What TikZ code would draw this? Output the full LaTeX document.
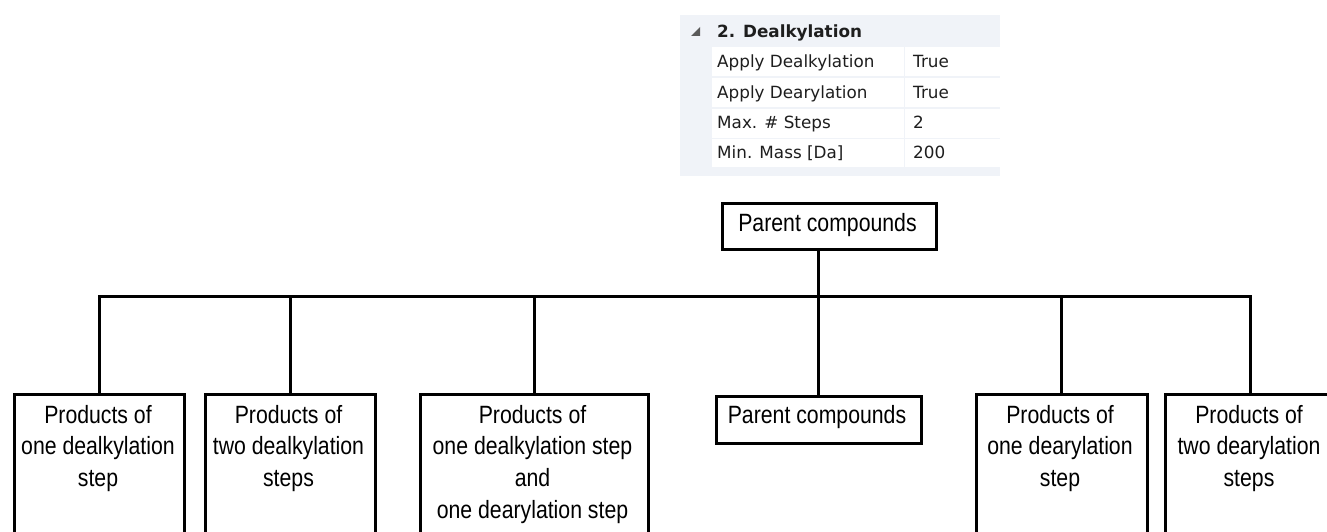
\documentclass[tikz,border=0pt]{standalone}
\usepackage{fontspec}
\setmainfont{Liberation Sans}
\newfontfamily\condfont{Liberation Sans}[FakeStretch=0.85]
\newfontfamily\gridfont{DejaVu Sans}
\definecolor{gridbg}{HTML}{F0F3F8}
\definecolor{gridtext}{HTML}{1E1E1E}
\definecolor{gridarrow}{HTML}{5A5A5A}
\begin{document}
\begin{tikzpicture}[x=1pt,y=-1pt,
  box/.style={draw, line width=3pt, inner sep=0pt, anchor=north west},
  % anchor=base sits on the last line of a multi-line label
  boxtext/.style={anchor=base, align=center, inner sep=0pt,
    font=\condfont\fontsize{25}{31.7}\selectfont},
  link/.style={line width=3pt},
  cell/.style={fill=white, draw=none},
  gridlabel/.style={anchor=base west, inner sep=0pt, text=gridtext,
    font=\gridfont\fontsize{16.8}{19}\selectfont}]
\useasboundingbox (0,0) rectangle (1327,532);
\clip (0,0) rectangle (1327,532);

% property grid panel
\fill[gridbg] (680,15) rectangle (1000,176);
\foreach \ya/\yb in {47/76.5, 78/107.5, 109/137.5, 139/166.5}{
  \fill[cell] (712,\ya) rectangle (903.5,\yb);
  \fill[cell] (905,\ya) rectangle (1000,\yb);
}
\fill[gridarrow] (691,36) -- (700,36) -- (700,27) -- cycle;
\node[gridlabel, font=\gridfont\bfseries\fontsize{16.8}{19}\selectfont] (gh) at (717,38) {2. Dealkylation};
\node[gridlabel] (n1) at (717,68) {Apply Dealkylation};
\node[gridlabel] (v1) at (913,68) {True};
\node[gridlabel] (n2) at (717,98.5) {Apply Dearylation};
\node[gridlabel] (v2) at (913,98.5) {True};
\node[gridlabel] (n3) at (717,128.5) {Max. \# Steps};
\node[gridlabel] (v3) at (913,128.5) {2};
\node[gridlabel] (n4) at (717,158.5) {Min. Mass [Da]};
\node[gridlabel] (v4) at (913,158.5) {200};

% tree boxes (open at the bottom edge of the page)
\node[box, minimum width=214pt, minimum height=46pt] (top) at (720.5,201.5) {};
\node[box, minimum width=170pt, minimum height=200pt] (b1) at (13,392.5) {};
\node[box, minimum width=170pt, minimum height=200pt] (b2) at (203.5,392.5) {};
\node[box, minimum width=228pt, minimum height=200pt] (b3) at (418.5,392.5) {};
\node[box, minimum width=205pt, minimum height=47pt] (b4) at (714.5,394.5) {};
\node[box, minimum width=171pt, minimum height=200pt] (b5) at (974.5,392.5) {};
\node[box, minimum width=171pt, minimum height=200pt] (b6) at (1163.5,392.5) {};

% labels (positions are last-line baselines)
\node[boxtext] (ttop) at (827.5,231) {Parent compounds};
\node[boxtext] (t1) at (98,486.4) {Products of\\one dealkylation\\step};
\node[boxtext] (t2) at (288.5,486.4) {Products of\\two dealkylation\\steps};
\node[boxtext] (t3) at (532.5,518.1) {Products of\\one dealkylation step\\and\\one dearylation step};
\node[boxtext] (t4) at (817,423) {Parent compounds};
\node[boxtext] (t5) at (1060,486.4) {Products of\\one dearylation\\step};
\node[boxtext] (t6) at (1249,486.4) {Products of\\two dearylation\\steps};

% connectors
\coordinate (j) at (818,296);
\draw[link] (j |- top.south) -- (j);
\draw[link] (b1.north) -- (b1.north |- j) -- (b6.north |- j) -- (b6.north);
\draw[link] (b2.north) -- (b2.north |- j);
\draw[link] (b3.north) -- (b3.north |- j);
\draw[link] (b4.north -| j) -- (j);
\draw[link] (b5.north) -- (b5.north |- j);
\end{tikzpicture}
\end{document}
